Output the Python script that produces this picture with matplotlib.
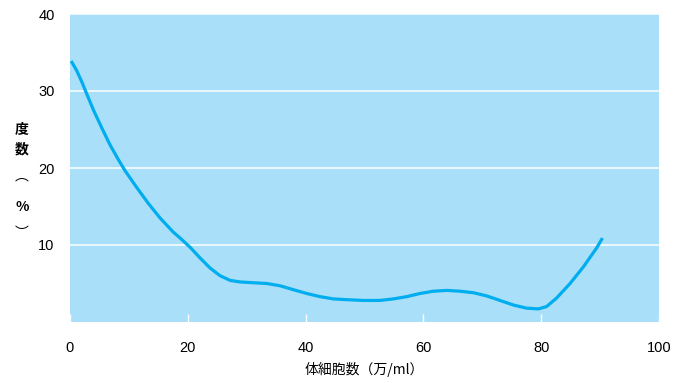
import matplotlib
matplotlib.use("Agg")
import matplotlib.pyplot as plt

plt.rcParams['font.family'] = ['Noto Sans CJK JP', 'DejaVu Sans']

# values
cells = [0.2, 1.1, 2.0, 2.8, 4.0, 5.4, 6.8, 8.2, 9.3, 11.3, 13.3, 15.3, 17.5,
         18.7, 20.4, 22.1, 23.8, 25.5, 27.2, 28.9, 31.1, 33.4, 35.7, 37.9, 40.2,
         42.4, 44.7, 47.0, 49.8, 52.6, 54.9, 57.2, 59.4, 61.7, 64.0, 66.2, 68.5,
         70.7, 73.0, 75.3, 77.5, 79.5, 80.9, 82.6, 84.9, 87.2, 89.4, 90.4]
freq = [33.9, 32.7, 31.2, 29.7, 27.5, 25.2, 23.0, 21.1, 19.7, 17.5, 15.4, 13.5, 11.7,
        10.9, 9.7, 8.3, 7.0, 6.0, 5.4, 5.2, 5.1, 5.0, 4.7, 4.2, 3.7,
        3.3, 3.0, 2.9, 2.8, 2.8, 3.0, 3.3, 3.7, 4.0, 4.1, 4.0, 3.8,
        3.4, 2.8, 2.2, 1.8, 1.7, 2.0, 3.1, 5.0, 7.2, 9.6, 10.9]

x_ticks = [0, 20, 40, 60, 80, 100]
y_ticks = [10, 20, 30, 40]
ylabel_chars = ['度', '数', '︵', '%', '︶']

bg = '#a9dff8'
line_col = '#00aeef'

fig = plt.figure(figsize=(6.81, 3.83), dpi=100)
ax = fig.add_axes([70 / 681, 61 / 383, 589 / 681, 308 / 383])
ax.set_facecolor(bg)

for y in y_ticks:
    ax.axhline(y, color='white', lw=1.1, zorder=1)

ax.plot(cells, freq, color=line_col, lw=2.3, solid_capstyle='butt',
        solid_joinstyle='round', zorder=3)

ax.set_xlim(0, 100)
ax.set_ylim(0, 40)
ax.set_xticks(x_ticks)
ax.set_xticklabels([str(v) for v in x_ticks], fontsize=10.5, family='Liberation Sans')
ax.set_yticks(y_ticks)
ax.set_yticklabels([str(v) for v in y_ticks], fontsize=10.5, family='Liberation Sans')
ax.tick_params(axis='x', direction='in', length=6, width=1, color='white', pad=14)
ax.tick_params(axis='y', length=0, pad=11)

for s in ax.spines.values():
    s.set_visible(False)

ax.set_xlabel('体細胞数（万/ml）', fontsize=10, labelpad=5)

ys = [130, 150, 176, 207, 233]
for ch, yp in zip(ylabel_chars, ys):
    fig.text(22 / 681, 1 - yp / 383, ch, fontsize=10, ha='center', va='center',
             fontweight='bold' if ch in '度数%' else 'normal')

fig.savefig('out.png', dpi=100)
